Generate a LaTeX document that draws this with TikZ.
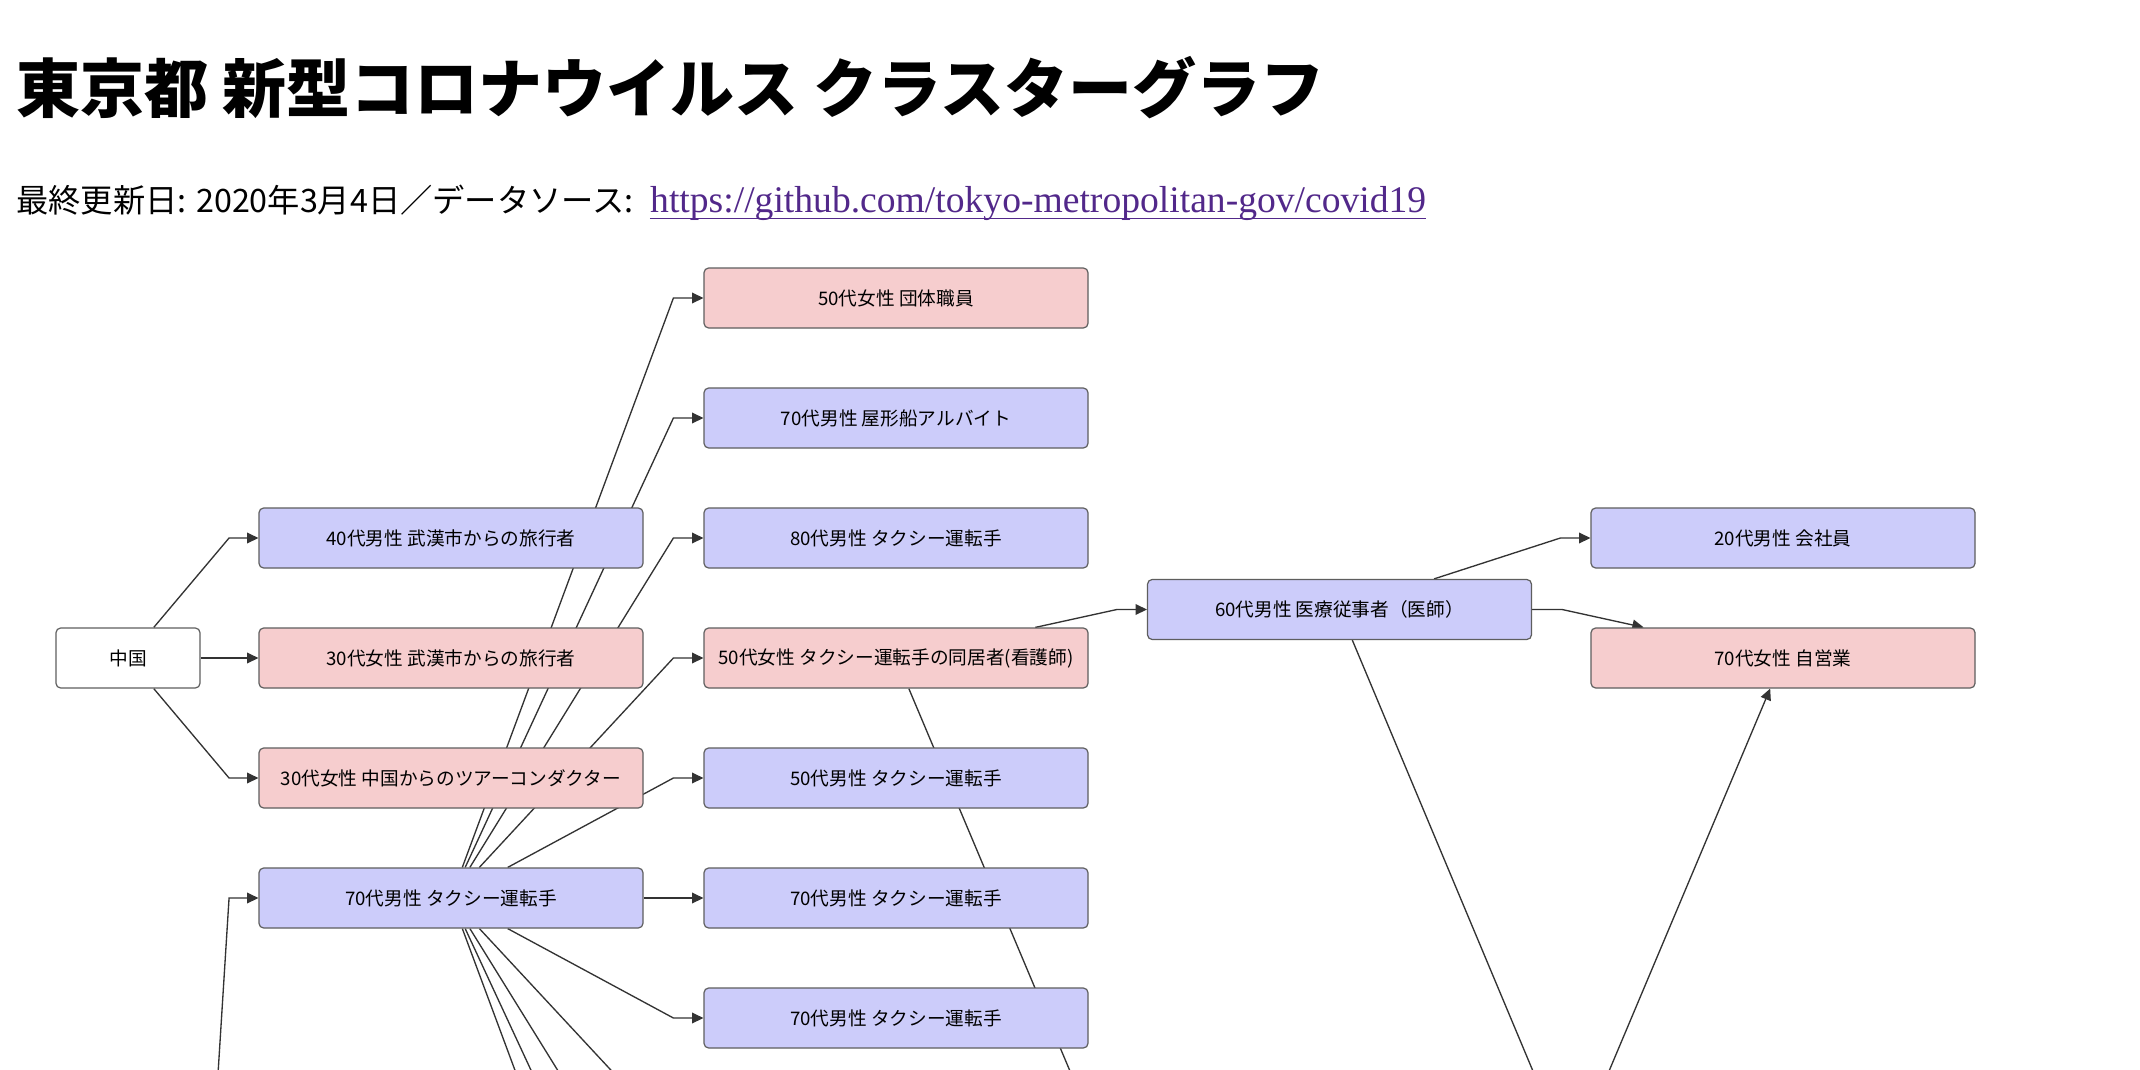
\documentclass[tikz,border=0pt]{standalone}
\usepackage{fontspec}
\usepackage{xcolor}
\usepackage{tikz}
\usetikzlibrary{arrows.meta, positioning, calc, backgrounds}
\setmainfont{Liberation Serif}
\newfontfamily\jpfont{Noto Sans CJK JP}
\definecolor{malefill}{HTML}{CCCCFA}
\definecolor{femalefill}{HTML}{F6CDCE}
\definecolor{boxline}{HTML}{5E5E5E}
\definecolor{lineink}{HTML}{333333}
\definecolor{linkpurple}{HTML}{52288A}

\begin{document}
\begin{tikzpicture}[x=0.75pt, y=-0.75pt,
    personbox/.style={draw=boxline, line width=0.9pt, rounded corners=3.5pt, minimum width=288pt, minimum height=45pt, inner sep=0pt, font=\jpfont\fontsize{14}{14}\selectfont},
    malebox/.style={personbox, fill=malefill},
    femalebox/.style={personbox, fill=femalefill},
    placebox/.style={personbox, fill=white, minimum width=108pt},
    arrowline/.style={lineink, line width=1pt, -{Triangle[length=8.5pt, width=8pt]}},
    plainline/.style={lineink, line width=1pt}]

  % Page frame
  \useasboundingbox (0,0) rectangle (2140,1070);

  % Title and source line
  \node[anchor=base west, inner sep=0pt, font=\jpfont\bfseries\fontsize{48}{48}\selectfont] (title) at (16,113) {東京都 新型コロナウイルス クラスターグラフ};
  \node[anchor=base west, inner sep=0pt, font=\jpfont\fontsize{24.2}{24}\selectfont] (updated) at (16,212) {最終更新日: 2020年3月4日／データソース:};
  \node[anchor=base west, inner sep=0pt, xshift=12pt, text=linkpurple, font=\fontsize{28.2}{28}\selectfont] (source) at (updated.base east) {https://github.com/tokyo-metropolitan-gov/covid19};
  \draw[linkpurple, line width=1.2pt] ([yshift=-5pt]source.base west) -- ([yshift=-5pt]source.base east);

  % Column 1 - origin
  \node[placebox] (china) at (128,658) {中国};

  % Column 2
  \node[malebox] (wuhanM40) at (451,538) {40代男性 武漢市からの旅行者};
  \node[femalebox] (wuhanF30) at (451,658) {30代女性 武漢市からの旅行者};
  \node[femalebox] (guideF30) at (451,778) {30代女性 中国からのツアーコンダクター};
  \node[malebox] (taxiM70) at (451,898) {70代男性 タクシー運転手};

  % Column 3
  \node[femalebox] (staffF50) at (896,298) {50代女性 団体職員};
  \node[malebox] (boatM70) at (896,418) {70代男性 屋形船アルバイト};
  \node[malebox] (taxiM80) at (896,538) {80代男性 タクシー運転手};
  \node[femalebox] (nurseF50) at (896,658) {50代女性 タクシー運転手の同居者(看護師)};
  \node[malebox] (taxiM50) at (896,778) {50代男性 タクシー運転手};
  \node[malebox] (taxiM70b) at (896,898) {70代男性 タクシー運転手};
  \node[malebox] (taxiM70c) at (896,1018) {70代男性 タクシー運転手};

  % Column 4
  \node[malebox] (doctorM60) at (1339.5,609.5) {60代男性 医療従事者（医師）};

  % Column 5
  \node[malebox] (officeM20) at (1783,538) {20代男性 会社員};
  \node[femalebox] (selfF70) at (1783,658) {70代女性 自営業};

  % Free ends below the page edge
  \coordinate (belowW) at (200,1360);
  \coordinate (belowA) at (674,1138);
  \coordinate (belowB) at (674,1258);
  \coordinate (belowC) at (674,1378);
  \coordinate (belowD) at (674,1498);
  \coordinate (belowN) at (1118,1185);
  \coordinate (belowDoc) at (1561,1138);
  \coordinate (belowS) at (1561,1185);

  % Connections (under the boxes)
  \begin{pgfonlayer}{background}
    \clip (0,0) rectangle (2140,1070);
    \fill[white] (0,0) rectangle (2140,1070);

    \foreach \t in {wuhanM40, wuhanF30, guideF30}
      \draw[arrowline] (china) -- ([xshift=-22pt]\t.west) -- (\t);

    \foreach \t in {staffF50, boatM70, taxiM80, nurseF50, taxiM50, taxiM70b, taxiM70c}
      \draw[arrowline] (taxiM70) -- ([xshift=-22.5pt]\t.west) -- (\t);
    \foreach \t in {belowA, belowB, belowC, belowD}
      \draw[plainline] (taxiM70) -- (\t);
    \draw[arrowline] (belowW) -- ([xshift=-22pt]taxiM70.west) -- (taxiM70);

    \draw[arrowline] (nurseF50) -- ([xshift=-22.5pt]doctorM60.west) -- (doctorM60);
    \draw[plainline] (nurseF50) -- (belowN);

    \draw[arrowline] (doctorM60) -- ([xshift=-22.5pt]officeM20.west) -- (officeM20);
    \draw[arrowline] (doctorM60) -- ([xshift=22.5pt]doctorM60.east) -- (selfF70);
    \draw[plainline] (doctorM60) -- (belowDoc);
    \draw[arrowline] (belowS) -- (selfF70);
  \end{pgfonlayer}
\end{tikzpicture}
\end{document}
